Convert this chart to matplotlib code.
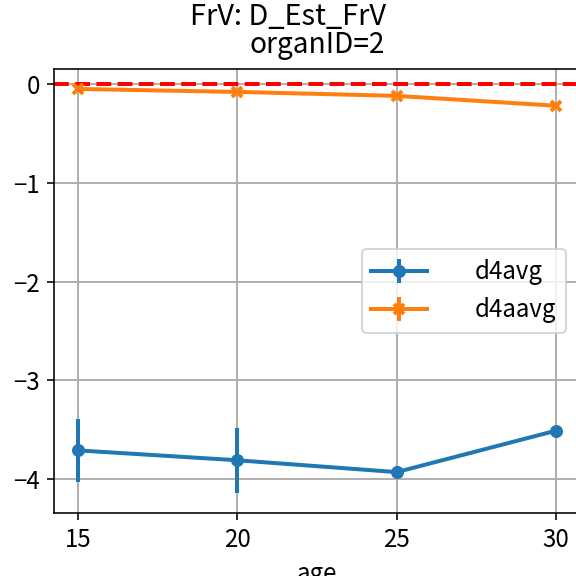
import numpy as np
import matplotlib
matplotlib.use('Agg')
import matplotlib.pyplot as plt

plt.rcParams['font.family'] = ['Noto Sans CJK SC', 'DejaVu Sans']
plt.rcParams['axes.unicode_minus'] = True
plt.rcParams['font.size'] = 12

# data
age = [15, 20, 25, 30]
d4avg = [-3.71, -3.81, -3.93, -3.51]
d4avg_err = [0.32, 0.33, 0.06, 0.0]
d4aavg = [-0.05, -0.08, -0.12, -0.22]
d4aavg_err = [0.0, 0.0, 0.0, 0.0]

fig = plt.figure(figsize=(4, 4), dpi=144)
ax = fig.add_axes([54 / 576, 63 / 576, 526 / 576, 444 / 576])

ax.errorbar(age, d4avg, yerr=d4avg_err, marker='o', markersize=5.5, lw=2, elinewidth=2, label='d4avg')
ax.errorbar(age, d4aavg, yerr=d4aavg_err, marker='x', markersize=5, mew=2, lw=2, elinewidth=2, label='d4aavg')
ax.axhline(0, color='r', ls='--', lw=2)

ax.set_xticks([15, 20, 25, 30])
ax.set_yticks([0, -1, -2, -3, -4])
ax.set_xlim(14.25, 30.75)
ax.set_ylim(-4.344, 0.152)
ax.grid(True, lw=1)
ax.set_xlabel('age')

ax.set_title('organID=2', pad=8, fontsize=14)
fig.suptitle('FrV: D_Est_FrV', y=1 - 2 / 576, va='top', fontsize=14.5)

ax.legend(loc='center right', handlelength=2.3, handletextpad=2.0, borderaxespad=0.6)

fig.savefig('out.png', dpi=144)
